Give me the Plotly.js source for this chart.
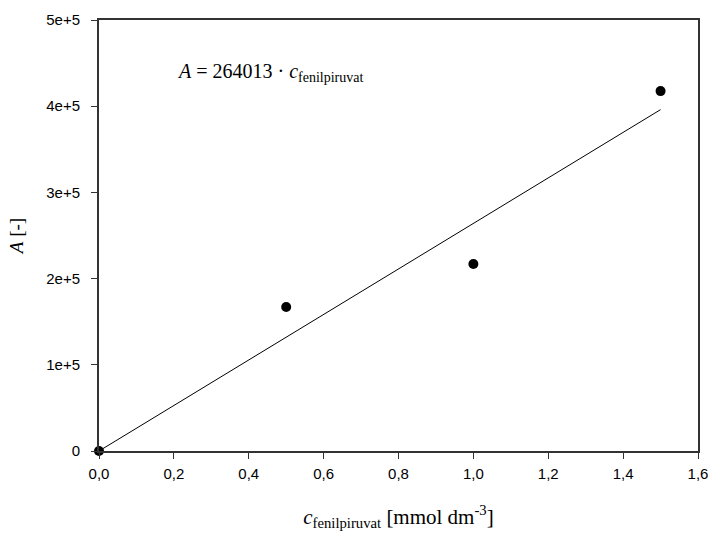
<!DOCTYPE html>
<html>
<head>
<meta charset="utf-8">
<script src="https://cdn.plot.ly/plotly-3.0.1.min.js"></script>
<style>html,body{margin:0;padding:0;background:#fff;}#chart{width:714px;height:538px;}</style>
</head>
<body>
<div id="chart"></div>
<script>
const concentration = [0.0, 0.5, 1.0, 1.5];
const peakArea = [0, 167000, 217000, 417500];
const slope = 264013;
const fitX = [0.0, 1.5];
const fitY = fitX.map(x => slope * x);
const yTickVals = [0, 100000, 200000, 300000, 400000, 500000];
const yTickText = ['0', '1e+5', '2e+5', '3e+5', '4e+5', '5e+5'];
const xTickVals = [0, 0.2, 0.4, 0.6, 0.8, 1.0, 1.2, 1.4, 1.6];
const xTickText = ['0,0', '0,2', '0,4', '0,6', '0,8', '1,0', '1,2', '1,4', '1,6'];

const traces = [
  {x: fitX, y: fitY, mode: 'lines', line: {color: '#000', width: 1}, hoverinfo: 'skip', showlegend: false, cliponaxis: false},
  {x: concentration, y: peakArea, mode: 'markers', marker: {color: '#000', size: 10}, showlegend: false, cliponaxis: false}
];

const axisCommon = {
  showgrid: false, zeroline: false, showline: true, linecolor: '#333', linewidth: 2,
  mirror: true, ticks: 'outside', ticklen: 6, tickcolor: '#333', tickwidth: 1,
  tickfont: {family: 'Liberation Sans, Arial, sans-serif', size: 15, color: '#000'}
};

const serif = 'Liberation Serif, Times New Roman, serif';

const layout = {
  width: 714, height: 538,
  margin: {l: 99, r: 16, t: 20, b: 87},
  paper_bgcolor: '#fff', plot_bgcolor: '#fff',
  xaxis: Object.assign({}, axisCommon, {
    range: [0, 1.6], tickvals: xTickVals, ticktext: xTickText, ticklabelstandoff: 2,
    title: {text: '<i>c</i><sub>fenilpiruvat</sub> [mmol dm<sup>-3</sup>]', font: {family: serif, size: 21, color: '#000'}, standoff: 28}
  }),
  yaxis: Object.assign({}, axisCommon, {
    range: [0, 500000], tickvals: yTickVals, ticktext: yTickText, ticklabelstandoff: 8,
    title: {text: '<i>A</i> [-]', font: {family: serif, size: 19, color: '#000'}, standoff: 18}
  }),
  annotations: [{
    xref: 'paper', yref: 'paper', x: 0.127, y: 0.878, xanchor: 'left', yanchor: 'middle', showarrow: false,
    text: '<i>A</i> = 264013 · <i>c</i><sub>fenilpiruvat</sub>',
    font: {family: serif, size: 20, color: '#000'}
  }]
};

Plotly.newPlot('chart', traces, layout, {displayModeBar: false, staticPlot: true});
</script>
</body>
</html>
